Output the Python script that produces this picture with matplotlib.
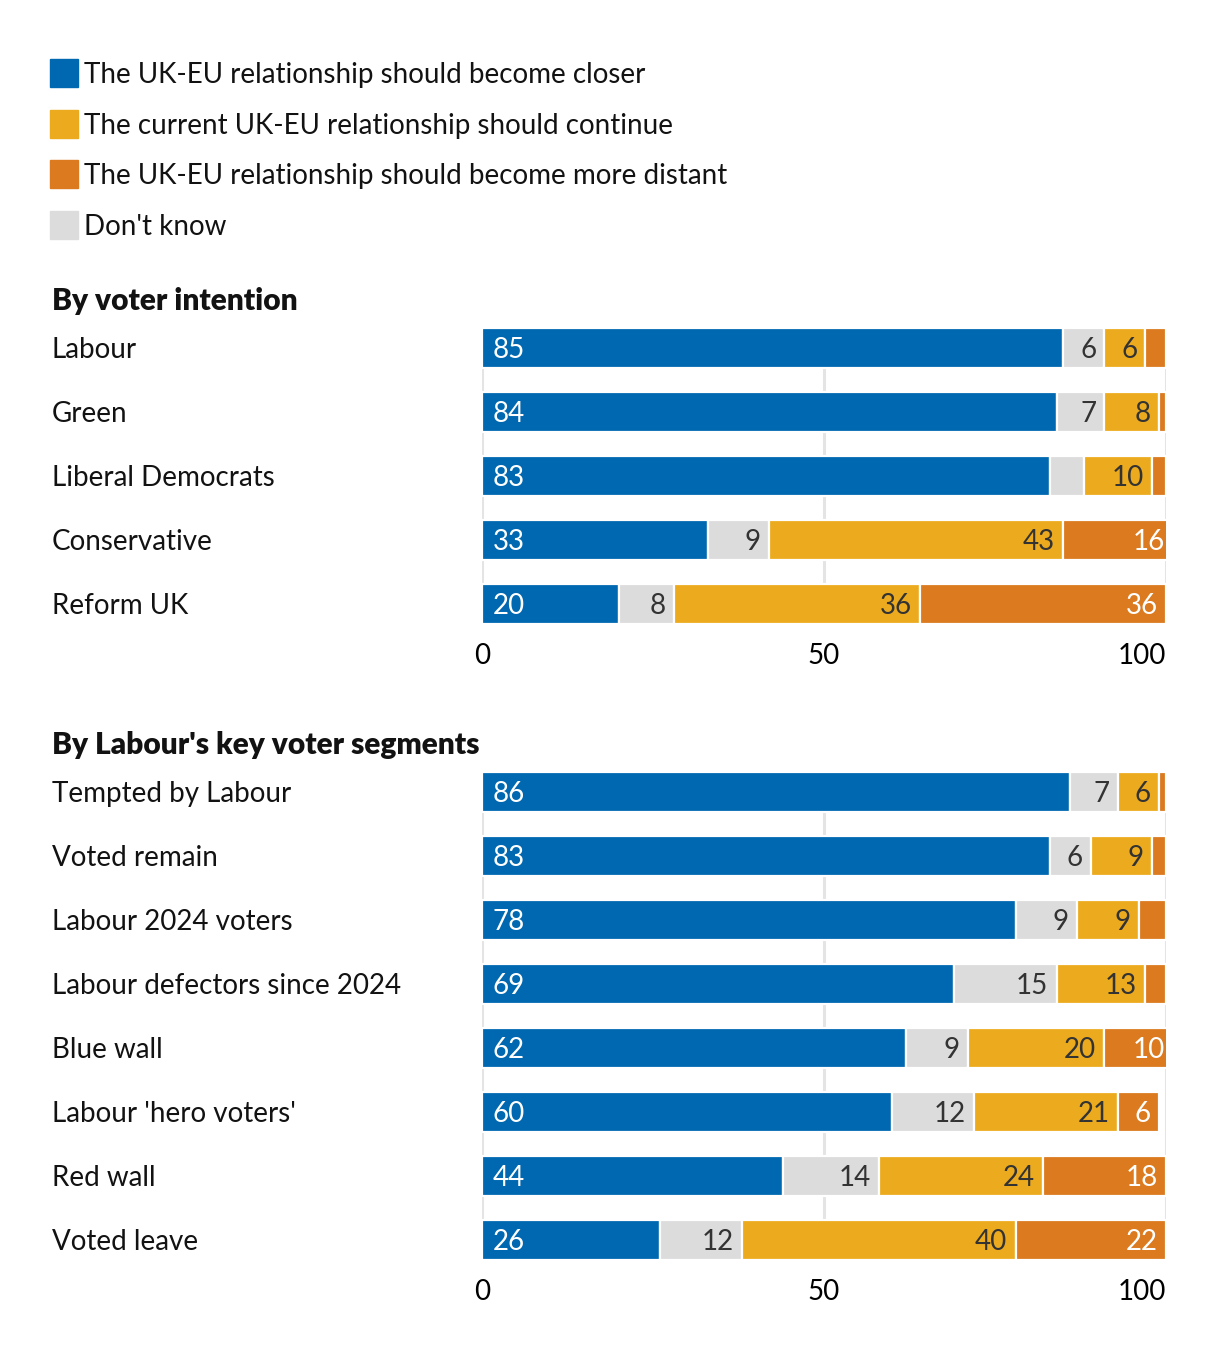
import matplotlib.pyplot as plt

plt.rcParams['font.family'] = ['Lato', 'DejaVu Sans']

# legend / series
series_names = ['The UK-EU relationship should become closer',
                'The current UK-EU relationship should continue',
                'The UK-EU relationship should become more distant',
                "Don't know"]

# top panel
top_title = 'By voter intention'
top_groups = ['Labour', 'Green', 'Liberal Democrats', 'Conservative', 'Reform UK']
top_closer = [85, 84, 83, 33, 20]
top_dk = [6, 7, 5, 9, 8]
top_continue = [6, 8, 10, 43, 36]
top_distant = [3, 1, 2, 16, 36]

# bottom panel
bot_title = "By Labour's key voter segments"
bot_groups = ['Tempted by Labour', 'Voted remain', 'Labour 2024 voters',
              'Labour defectors since 2024', 'Blue wall', "Labour 'hero voters'",
              'Red wall', 'Voted leave']
bot_closer = [86, 83, 78, 69, 62, 60, 44, 26]
bot_dk = [7, 6, 9, 15, 9, 12, 14, 12]
bot_continue = [6, 9, 9, 13, 20, 21, 24, 40]
bot_distant = [1, 2, 4, 3, 10, 6, 18, 22]

ticks = [0, 50, 100]

BLUE = '#0068b0'
YELLOW = '#ecab1e'
ORANGE = '#db7a1e'
GREY = '#dcdcdc'
legend_colors = [BLUE, YELLOW, ORANGE, GREY]

W, H = 1220, 1358
fig = plt.figure(figsize=(W / 100, H / 100), dpi=100)
FS = 20
BAR_H = 0.625


def fx(px):
    return px / W


def fy(py):
    return 1 - py / H


# legend
for i, (name, c) in enumerate(zip(series_names, legend_colors)):
    yc = 73 + i * 50.7
    fig.patches.append(plt.Rectangle((fx(50), fy(yc + 14)), fx(28), 28 / H,
                                     transform=fig.transFigure, color=c))
    fig.text(fx(84), fy(yc + 2), name, fontsize=FS, va='center', ha='left', color='#121212')


def panel(top_px, groups, closer, dk, cont, dist, title):
    n = len(groups)
    height_px = n * 64
    ax = fig.add_axes([fx(482), fy(top_px + height_px), fx(684), height_px / H])
    ys = list(range(n))
    left = [0] * n
    segs = [(closer, BLUE, 'white', 'left'),
            (dk, GREY, '#333333', 'right'),
            (cont, YELLOW, '#333333', 'right'),
            (dist, ORANGE, 'white', 'right')]
    dy = 2 / 64  # nudge labels down a couple of pixels
    for vals, col, tcol, align in segs:
        ax.barh(ys, vals, left=left, height=BAR_H, color=col,
                edgecolor='white', linewidth=1.6, zorder=3)
        for y, v, l in zip(ys, vals, left):
            if v >= 6:
                if align == 'left':
                    ax.text(l + 1.6, y + dy, str(v), color=tcol, fontsize=FS,
                            va='center', ha='left', zorder=4)
                else:
                    ax.text(l + v - 1.2, y + dy, str(v), color=tcol, fontsize=FS,
                            va='center', ha='right', zorder=4)
        left = [a + b for a, b in zip(left, vals)]
    ax.vlines(ticks, -BAR_H / 2, n - 1 + BAR_H / 2, color='#e4e4e4', lw=2.2, zorder=1)
    ax.set_xlim(0, 100)
    ax.set_ylim(n - 0.5, -0.5)
    ax.set_yticks([])
    ax.set_xticks(ticks)
    labels = ax.set_xticklabels([str(t) for t in ticks], fontsize=FS)
    labels[-1].set_ha('right')
    ax.tick_params(axis='x', length=0, pad=5)
    for s in ax.spines.values():
        s.set_visible(False)
    for i, g in enumerate(groups):
        fig.text(fx(52), fy(top_px + 34 + 64 * i), g, fontsize=FS,
                 va='center', ha='left', color='#121212')
    fig.text(fx(52), fy(top_px - 15), title, fontsize=21.5, fontweight='heavy',
             va='center', ha='left', color='#121212')
    return ax


panel(316, top_groups, top_closer, top_dk, top_continue, top_distant, top_title)
panel(760, bot_groups, bot_closer, bot_dk, bot_continue, bot_distant, bot_title)

fig.savefig('out.png', dpi=100, facecolor='white')
